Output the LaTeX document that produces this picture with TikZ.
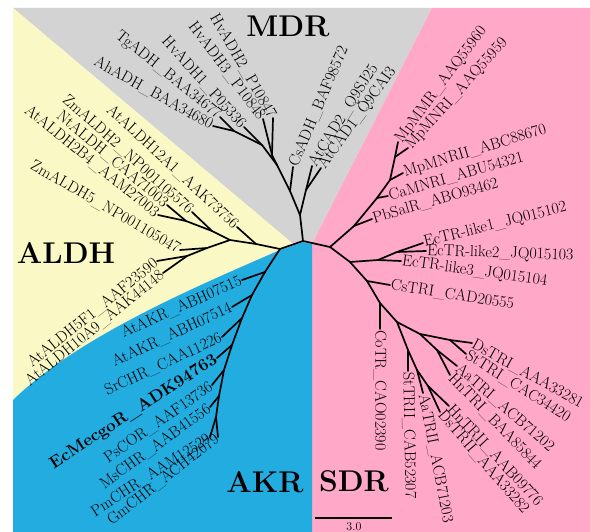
\documentclass[tikz,border=0pt]{standalone}
\usepackage{fontspec}
\definecolor{mdrgray}{RGB}{211,211,211}
\definecolor{aldhyel}{RGB}{250,248,196}
\definecolor{sdrpink}{RGB}{255,168,200}
\definecolor{akrblue}{RGB}{35,172,224}
\begin{document}
\begin{tikzpicture}[x=1pt,y=-1pt,
  br/.style={line width=1.7pt, line join=round, line cap=round},
  lbl/.style={font=\fontsize{16}{18}\selectfont, text=black, inner sep=1pt},
  lblL/.style={lbl, anchor=east},
  lblR/.style={lbl, anchor=west},
  boldlbl/.style={font=\fontsize{17}{19}\selectfont\bfseries, text=black, inner sep=1pt, anchor=east},
  clade/.style={font=\fontsize{30}{34}\selectfont\bfseries, inner sep=0pt}]
\useasboundingbox (0,0) rectangle (590,532);
\fill[white] (0,0) rectangle (590,532);
% background sectors
\fill[mdrgray] (13,8) -- (432,8) -- (313,242) -- (303,242) -- (292,243) -- cycle;
\fill[sdrpink] (432,8) -- (590,8) -- (590,532) -- (312,532) -- (312,244) -- (313,242) -- cycle;
\fill[aldhyel] (13,8) -- (292,243) -- (280,250) .. controls (200,285) and (80,335) .. (13,400) -- cycle;
\fill[akrblue] (13,400) .. controls (80,335) and (200,285) .. (280,250) -- (303,242) -- (312,244) -- (312,532) -- (13,532) -- cycle;

% internal nodes
\coordinate (R) at (303,241);
\coordinate (M1) at (300,215);
\coordinate (A) at (306,190);
\coordinate (M2) at (290,191);
\coordinate (M3) at (277,165);
\coordinate (H) at (272,155);
\coordinate (M4) at (262,145);
\coordinate (M5) at (234,131);
\coordinate (K0) at (280,249);
\coordinate (A0) at (256,244);
\coordinate (A1) at (230,240);
\coordinate (A2) at (212,231);
\coordinate (A3) at (186,221);
\coordinate (B1) at (207,248);
\coordinate (B2) at (187,256);
\coordinate (K1) at (265,272);
\coordinate (K2) at (252,295);
\coordinate (K3) at (242,318);
\coordinate (K4) at (232,345);
\coordinate (K5) at (224,370);
\coordinate (K6) at (219,396);
\coordinate (K7) at (216,417);
\coordinate (S1) at (330,247);
\coordinate (S2) at (354,226);
\coordinate (S3) at (377,198);
\coordinate (S4) at (390,180);
\coordinate (S5) at (395,157);
\coordinate (S6) at (350,262);
\coordinate (E1) at (378,260);
\coordinate (E2) at (397,252);
\coordinate (S7) at (367,281);
\coordinate (S8) at (380,303);
\coordinate (S9) at (397,322);
\coordinate (T1) at (408,350);
\coordinate (T2) at (417,370);
\coordinate (T3) at (428,386);
\coordinate (U1) at (420,334);
\coordinate (U2) at (450,340);
\coordinate (U3) at (437,350);

% leaves
\coordinate (vHvADH2) at (273,118);
\coordinate (vHvADH3) at (263,119);
\coordinate (vHvADH1) at (244,127);
\coordinate (vTgADH) at (220,117);
\coordinate (vAhADH) at (213,126);
\coordinate (vCsADH) at (293,167);
\coordinate (vAtCAD2) at (312,166);
\coordinate (vAtCAD1) at (321,168);
\coordinate (vMpMMR) at (398,142);
\coordinate (vMpMNRI) at (408,148);
\coordinate (vMpMNRII) at (403,173);
\coordinate (vCaMNRI) at (388,196);
\coordinate (vPbSalR) at (372,219);
\coordinate (vEc1) at (423,243);
\coordinate (vEc2) at (426,251);
\coordinate (vEc3) at (401,261);
\coordinate (vCsTRI) at (390,285);
\coordinate (vCoTR) at (380,329);
\coordinate (vStTRII) at (408,371);
\coordinate (vAaTRII) at (423,393);
\coordinate (vDsTRII) at (440,412);
\coordinate (vHnTRII) at (449,406);
\coordinate (vHnTRI) at (450,375);
\coordinate (vAaTRI) at (457,366);
\coordinate (vStTRI) at (466,354);
\coordinate (vDsTRI) at (472,343);
\coordinate (vAK1) at (242,280);
\coordinate (vAK2) at (232,307);
\coordinate (vSrCHR) at (222,337);
\coordinate (vEcMec) at (217,358);
\coordinate (vPsCOR) at (212,385);
\coordinate (vMsCHR) at (210,407);
\coordinate (vPmCHR) at (210,437);
\coordinate (vGmCHR) at (218,437);
\coordinate (vAL12) at (237,227);
\coordinate (vZm2) at (192,212);
\coordinate (vNt) at (167,205);
\coordinate (vAt2B4) at (158,215);
\coordinate (vZm5) at (180,250);
\coordinate (vAL5F1) at (157,261);
\coordinate (vAL10) at (163,273);

% branches
\draw[br] (R) -- (M1) -- (A) -- (vAtCAD2);
\draw[br] (A) -- (vAtCAD1);
\draw[br] (M1) -- (M2) -- (vCsADH);
\draw[br] (M2) -- (M3) -- (H) -- (vHvADH2);
\draw[br] (H) -- (vHvADH3);
\draw[br] (M3) -- (M4) -- (vHvADH1);
\draw[br] (M4) -- (M5) -- (vTgADH);
\draw[br] (M5) -- (vAhADH);
\draw[br] (R) -- (K0) -- (A0) -- (vAL12);
\draw[br] (A0) -- (A1) -- (A2) -- (vZm2);
\draw[br] (A2) -- (A3) -- (vNt);
\draw[br] (A3) -- (vAt2B4);
\draw[br] (A1) -- (B1) -- (vZm5);
\draw[br] (B1) -- (B2) -- (vAL5F1);
\draw[br] (B2) -- (vAL10);
\draw[br] (K0) -- (K1) -- (K2) -- (K3) -- (K4) -- (K5) -- (K6) -- (K7) -- (vGmCHR);
\draw[br] (K7) -- (vPmCHR);
\draw[br] (K1) -- (vAK1);
\draw[br] (K2) -- (vAK2);
\draw[br] (K3) -- (vSrCHR);
\draw[br] (K4) -- (vEcMec);
\draw[br] (K5) -- (vPsCOR);
\draw[br] (K6) -- (vMsCHR);
\draw[br] (R) -- (S1) -- (S2) -- (S3) -- (S4) -- (S5) -- (vMpMMR);
\draw[br] (S5) -- (vMpMNRI);
\draw[br] (S4) -- (vMpMNRII);
\draw[br] (S3) -- (vCaMNRI);
\draw[br] (S2) -- (vPbSalR);
\draw[br] (S1) -- (S6) -- (S7) -- (S8) -- (S9);
\draw[br] (S6) -- (E1) -- (vEc3);
\draw[br] (E1) -- (E2) -- (vEc1);
\draw[br] (E2) -- (vEc2);
\draw[br] (S7) -- (vCsTRI);
\draw[br] (S8) -- (vCoTR);
\draw[br] (S9) -- (T1) -- (vStTRII);
\draw[br] (T1) -- (T2) -- (vAaTRII);
\draw[br] (T2) -- (T3) -- (vDsTRII);
\draw[br] (T3) -- (vHnTRII);
\draw[br] (S9) -- (U1) -- (U2) -- (vDsTRI);
\draw[br] (U2) -- (vStTRI);
\draw[br] (U1) -- (U3) -- (vAaTRI);
\draw[br] (U3) -- (vHnTRI);

% labels MDR
\node[lblL, rotate=-60] (lHvADH2) at (vHvADH2) {HvADH2\_P10847};
\node[lblL, rotate=-53] (lHvADH3) at (vHvADH3) {HvADH3\_P10848};
\node[lblL, rotate=-48] (lHvADH1) at (vHvADH1) {HvADH1\_P05336};
\node[lblL, rotate=-39] (lTgADH) at (vTgADH) {TgADH\_BAA34677};
\node[lblL, rotate=-29] (lAhADH) at (vAhADH) {AhADH\_BAA34680};
\node[lblR, rotate=67] (lCsADH) at (vCsADH) {CsADH\_BAF98572};
\node[lblR, rotate=58] (lAtCAD2) at (vAtCAD2) {AtCAD2\_Q9SJ25};
\node[lblR, rotate=54] (lAtCAD1) at (vAtCAD1) {AtCAD1\_Q9CAI3};
% labels SDR
\node[lblR, rotate=53] (lMpMMR) at (vMpMMR) {MpMMR\_AAQ55960};
\node[lblR, rotate=48] (lMpMNRI) at (vMpMNRI) {MpMNRI\_AAQ55959};
\node[lblR, rotate=17] (lMpMNRII) at (vMpMNRII) {MpMNRII\_ABC88670};
\node[lblR, rotate=16] (lCaMNRI) at (vCaMNRI) {CaMNRI\_ABU54321};
\node[lblR, rotate=16] (lPbSalR) at (vPbSalR) {PbSalR\_ABO93462};
\node[lblR, rotate=14] (lEc1) at (vEc1) {EcTR-like1\_JQ015102};
\node[lblR, rotate=-2] (lEc2) at (vEc2) {EcTR-like2\_JQ015103};
\node[lblR, rotate=-8] (lEc3) at (vEc3) {EcTR-like3\_JQ015104};
\node[lblR, rotate=-9] (lCsTRI) at (vCsTRI) {CsTRI\_CAD20555};
\node[lblR, rotate=-90] (lCoTR) at (vCoTR) {CoTR\_CAO02390};
\node[lblR, rotate=-89] (lStTRII) at (vStTRII) {StTRII\_CAB52307};
\node[lblR, rotate=-79] (lAaTRII) at (vAaTRII) {AaTRII\_ACB71203};
\node[lblR, rotate=-49] (lDsTRII) at (vDsTRII) {DsTRII\_AAA33282};
\node[lblR, rotate=-47] (lHnTRII) at (vHnTRII) {HnTRII\_AAB09776};
\node[lblR, rotate=-46] (lHnTRI) at (vHnTRI) {HnTRI\_BAA85844};
\node[lblR, rotate=-41] (lAaTRI) at (vAaTRI) {AaTRI\_ACB71202};
\node[lblR, rotate=-32] (lStTRI) at (vStTRI) {StTRI\_CAC34420};
\node[lblR, rotate=-29] (lDsTRI) at (vDsTRI) {DsTRI\_AAA33281};
% labels AKR
\node[lblL, rotate=24] (lAK1) at (vAK1) {AtAKR\_ABH07515};
\node[lblL, rotate=25] (lAK2) at (vAK2) {AtAKR\_ABH07514};
\node[lblL, rotate=25] (lSrCHR) at (vSrCHR) {SrCHR\_CAA11226};
\node[boldlbl, rotate=33] (lEcMec) at (vEcMec) {EcMecgoR\_ADK94763};
\node[lblL, rotate=35] (lPsCOR) at (vPsCOR) {PsCOR\_AAF13736};
\node[lblL, rotate=36] (lMsCHR) at (vMsCHR) {MsCHR\_AAB41556};
\node[lblL, rotate=33] (lPmCHR) at (vPmCHR) {PmCHR\_AAM12529};
\node[lblL, rotate=38] (lGmCHR) at (vGmCHR) {GmCHR\_ACH42079};
% labels ALDH
\node[lblL, rotate=-43] (lAL12) at (vAL12) {AtALDH12A1\_AAK73756};
\node[lblL, rotate=-42] (lZm2) at (vZm2) {ZmALDH2\_NP001105576};
\node[lblL, rotate=-40] (lNt) at (vNt) {NtALDH\_CAA71003};
\node[lblL, rotate=-39] (lAt2B4) at (vAt2B4) {AtALDH2B4\_AAM27003};
\node[lblL, rotate=-30] (lZm5) at (vZm5) {ZmALDH5\_NP001105047};
\node[lblL, rotate=39] (lAL5F1) at (vAL5F1) {AtALDH5F1\_AAF23590};
\node[lblL, rotate=39] (lAL10) at (vAL10) {AtALDH10A9\_AAK44148};

% clade names
\node[clade] (cMDR) at (288,26) {MDR};
\node[clade] (cALDH) at (66,253) {ALDH};
\node[clade] (cAKR) at (265,482) {AKR};
\node[clade] (cSDR) at (354,481) {SDR};

% scale bar
\coordinate (sb1) at (315,518);
\coordinate (sb2) at (392,518);
\draw[line width=1.2pt] (sb1) -- (sb2);
\node[font=\fontsize{12}{13}\selectfont, inner sep=0pt] (sbl) at (354,527) {3.0};
\end{tikzpicture}
\end{document}
